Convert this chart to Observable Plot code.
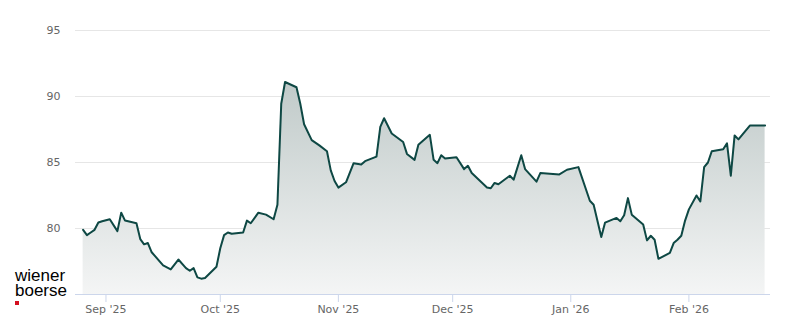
<!DOCTYPE html>
<html>
<head>
<meta charset="utf-8">
<script src="https://cdn.jsdelivr.net/npm/d3@7"></script>
<script src="https://cdn.jsdelivr.net/npm/@observablehq/plot@0.6"></script>
<style>
  html, body { margin: 0; padding: 0; background: #fff; }
  #wrap { position: relative; width: 800px; height: 324px; }
  #logo { position: absolute; left: 15px; top: 268px; font-family: "Liberation Sans", Arial, sans-serif; font-size: 17px; line-height: 15px; color: #000; }
  #dot { position: absolute; left: 15px; top: 301px; width: 4px; height: 4px; background: #d40f1f; }
</style>
</head>
<body>
<div id="wrap">
  <div id="chart"></div>
  <div id="logo">wiener<br>boerse</div>
  <div id="dot"></div>
</div>
<script>
const dates = [
  "2025-08-26","2025-08-27","2025-08-28","2025-08-29","2025-08-30","2025-08-31",
  "2025-09-02","2025-09-04","2025-09-05","2025-09-06","2025-09-09","2025-09-10",
  "2025-09-11","2025-09-12","2025-09-13","2025-09-16","2025-09-18","2025-09-20",
  "2025-09-22","2025-09-23","2025-09-24","2025-09-25","2025-09-26","2025-09-27",
  "2025-09-30","2025-10-01","2025-10-02","2025-10-03","2025-10-04","2025-10-07",
  "2025-10-08","2025-10-09","2025-10-11","2025-10-13","2025-10-15","2025-10-16",
  "2025-10-17","2025-10-18","2025-10-21","2025-10-22","2025-10-23","2025-10-25",
  "2025-10-27","2025-10-29","2025-10-30","2025-10-31","2025-11-01","2025-11-03",
  "2025-11-05","2025-11-07","2025-11-08","2025-11-11","2025-11-12","2025-11-13",
  "2025-11-15","2025-11-18","2025-11-19","2025-11-21","2025-11-22","2025-11-25",
  "2025-11-26","2025-11-27","2025-11-28","2025-11-29","2025-12-02","2025-12-04",
  "2025-12-05","2025-12-06","2025-12-10","2025-12-11","2025-12-12","2025-12-13",
  "2025-12-16","2025-12-17","2025-12-19","2025-12-20","2025-12-23","2025-12-24",
  "2025-12-29","2025-12-31","2026-01-03","2026-01-06","2026-01-07","2026-01-09",
  "2026-01-10","2026-01-13","2026-01-14","2026-01-15","2026-01-16","2026-01-17",
  "2026-01-20","2026-01-21","2026-01-22","2026-01-23","2026-01-24","2026-01-27",
  "2026-01-28","2026-01-29","2026-01-30","2026-01-31","2026-02-01","2026-02-03",
  "2026-02-04","2026-02-05","2026-02-06","2026-02-07","2026-02-10","2026-02-11",
  "2026-02-12","2026-02-13","2026-02-14","2026-02-17","2026-02-21"
];
const prices = [
  79.9,79.5,79.7,79.9,80.45,80.55,
  80.7,79.8,81.2,80.6,80.4,79.2,
  78.8,78.9,78.2,77.2,76.9,77.65,
  77.0,76.8,77.0,76.3,76.2,76.25,
  77.1,78.5,79.5,79.7,79.6,79.7,
  80.6,80.4,81.2,81.05,80.7,81.8,
  89.45,91.1,90.7,89.45,87.9,86.7,
  86.3,85.85,84.4,83.6,83.1,83.5,
  84.95,84.85,85.1,85.45,87.7,88.35,
  87.2,86.55,85.65,85.2,86.35,87.1,
  85.2,84.95,85.55,85.3,85.4,84.5,
  84.75,84.2,83.1,83.05,83.45,83.35,
  84.0,83.7,85.55,84.5,83.55,84.2,
  84.1,84.45,84.65,82.1,81.8,79.35,
  80.45,80.8,80.55,81.0,82.3,81.05,
  80.3,79.1,79.45,79.15,77.7,78.15,
  78.9,79.15,79.45,80.6,81.45,82.5,
  82.05,84.65,85.0,85.85,86.0,86.45,
  84.0,87.05,86.75,87.8,87.8
];
const yTicks = [80, 85, 90, 95];
const xTickDates = ["2025-09-01","2025-10-01","2025-11-01","2025-12-01","2026-01-01","2026-02-01"];
const xTickLabels = ["Sep '25","Oct '25","Nov '25","Dec '25","Jan '26","Feb '26"];

const data = dates.map((d, i) => ({date: new Date(d), value: prices[i]}));
const tickDates = xTickDates.map(d => new Date(d));
const labelFor = new Map(tickDates.map((d, i) => [+d, xTickLabels[i]]));

const gradient = () => {
  const defs = d3.create("svg:defs");
  const g = defs.append("linearGradient").attr("id", "areaGrad")
    .attr("x1", 0).attr("y1", 0).attr("x2", 0).attr("y2", 1);
  g.append("stop").attr("offset", "0%").attr("stop-color", "#c0cac9");
  g.append("stop").attr("offset", "100%").attr("stop-color", "#f4f5f5");
  return defs.node();
};

const chart = Plot.plot({
  width: 800,
  height: 324,
  marginLeft: 75,
  marginRight: 30,
  marginTop: 30,
  marginBottom: 30,
  style: {fontFamily: "DejaVu Sans, sans-serif", fontSize: "11px", color: "#666666", background: "transparent"},
  x: {type: "utc", domain: [new Date("2025-08-24"), new Date("2026-02-22T10:00")]},
  y: {domain: [75, 95]},
  marks: [
    gradient,
    Plot.gridY(yTicks, {stroke: "#e6e6e6", strokeOpacity: 1}),
    Plot.areaY(data, {x: "date", y1: 75, y2: "value", fill: "url(#areaGrad)"}),
    Plot.line(data, {x: "date", y: "value", stroke: "#0e4844", strokeWidth: 2, strokeLinejoin: "round"}),
    Plot.ruleY([75], {stroke: "#ccd6eb"}),
    Plot.axisY({ticks: yTicks, tickSize: 0, tickPadding: 15, label: null, fill: "#666666"}),
    Plot.axisX({ticks: tickDates, tickFormat: d => labelFor.get(+d), tickSize: 8, tickPadding: 3, stroke: "#ccd6eb", strokeOpacity: 1, label: null, fill: "#666666"})
  ]
});
document.getElementById("chart").appendChild(chart);
</script>
</body>
</html>
